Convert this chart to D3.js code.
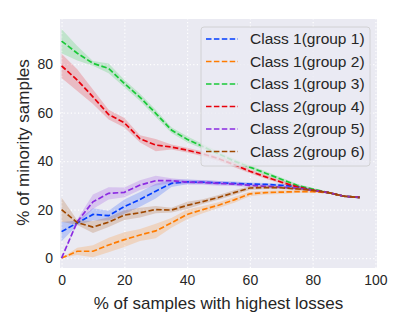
<!DOCTYPE html>
<html>
<head>
<meta charset="utf-8">
<script src="https://cdn.jsdelivr.net/npm/d3@7"></script>
<style>
  body { margin: 0; background: #fff; }
  text { font-family: "Liberation Sans", Arial, sans-serif; fill: #262626; }
</style>
</head>
<body>
<script>
const margin = {top: 19, right: 30, bottom: 58, left: 60};
const width = 407 - margin.left - margin.right;
const height = 326 - margin.top - margin.bottom;

// x positions (% of samples with highest losses)
var xValues = [0, 5, 10, 15, 20, 25, 30, 35, 40, 45, 50, 55, 60, 65, 70, 75, 80, 85, 90, 95];
var xTicks = [0, 20, 40, 60, 80, 100];
var yTicks = [0, 20, 40, 60, 80];

var seriesNames = ["Class 1(group 1)", "Class 1(group 2)", "Class 1(group 3)",
                   "Class 2(group 4)", "Class 2(group 5)", "Class 2(group 6)"];
var seriesColors = ["#023eff", "#ff7c00", "#1ac938", "#e8000b", "#8b2be2", "#9f4800"];

// mean values
var group1 = [10.9, 14.5, 18, 17.5, 21.2, 24.2, 27.6, 30.8, 31.4, 31.3, 31, 30.8, 30.5, 30.4, 30, 29.5, 28, 27, 25.5, 25];
var group2 = [0, 2.8, 2.8, 5.4, 7.6, 9.5, 11.2, 14.5, 18, 20, 21.8, 24, 26.5, 27, 27.2, 27.4, 27.4, 27, 25.5, 25];
var group3 = [89.5, 84.5, 80.3, 78.2, 72, 66.3, 59.7, 52.8, 49, 46, 43, 40, 37.5, 35, 32.5, 30, 28.5, 27, 25.5, 25];
var group4 = [79.3, 73.4, 66.5, 59.2, 55.8, 49.2, 46.6, 45.8, 44.5, 43, 41, 38.5, 35.8, 33.5, 31.3, 29.4, 28, 27, 25.5, 25];
var group5 = [0, 15, 23.2, 26.7, 27.1, 30.1, 31.9, 31.9, 31.3, 31.2, 30.8, 30.5, 30, 29.6, 29.2, 28.8, 28, 27, 25.5, 25];
var group6 = [20, 14.6, 12.8, 14.8, 17.7, 18.7, 20, 19.8, 21.7, 23.3, 25, 27, 28.9, 29.1, 29, 28.5, 28, 27, 25.5, 25];

// half width of the shaded confidence band
var ci1 = [4, 1, 2.5, 2, 3, 3, 3, 1.5, 1, 0.8, 0.8, 0.8, 0.7, 0.6, 0.6, 0.5, 0.4, 0.3, 0.3, 0.2];
var ci2 = [0, 1.5, 2.5, 3, 3, 2.5, 3, 2, 2, 1.5, 1.2, 1.2, 1, 0.8, 0.8, 0.6, 0.5, 0.4, 0.3, 0.2];
var ci3 = [5, 3, 1, 2, 1.5, 1.5, 1.5, 1.2, 1.2, 1, 1, 1, 0.8, 0.8, 0.7, 0.6, 0.5, 0.4, 0.3, 0.2];
var ci4 = [5, 4.5, 3, 2, 2, 1.5, 2.5, 1, 1, 1, 1, 1, 0.8, 0.8, 0.7, 0.6, 0.5, 0.4, 0.3, 0.2];
var ci5 = [0, 1, 3, 2.5, 2, 2, 2, 1, 1, 1, 1, 0.8, 0.8, 0.7, 0.6, 0.5, 0.4, 0.3, 0.3, 0.2];
var ci6 = [5, 1, 2.5, 2, 2, 2, 1.5, 1, 1.5, 1, 1, 1, 0.8, 0.7, 0.6, 0.5, 0.4, 0.3, 0.3, 0.2];

var means = [group1, group2, group3, group4, group5, group6];
var cis = [ci1, ci2, ci3, ci4, ci5, ci6];

var xScale = d3.scaleLinear().domain([-0.5, 100.5]).range([0, width]);
var yScale = d3.scaleLinear().domain([-4.1, 98.6]).range([height, 0]);

var svg = d3.select("body").append("svg")
    .attr("width", width + margin.left + margin.right)
    .attr("height", height + margin.top + margin.bottom)
    .append("g")
    .attr("transform", "translate(" + margin.left + "," + margin.top + ")");

// seaborn darkgrid background
svg.append("rect")
    .attr("width", width)
    .attr("height", height)
    .attr("fill", "#eaeaf2");

var xAxis = d3.axisBottom(xScale).tickValues(xTicks).tickSize(-height).tickPadding(7);
var yAxis = d3.axisLeft(yScale).tickValues(yTicks).tickSize(-width).tickPadding(7);

function styleAxis(g) {
    g.select(".domain").remove();
    g.selectAll(".tick line")
        .attr("stroke", "#fff")
        .attr("stroke-width", 1.2)
        .attr("stroke-dasharray", "1.2,2.4");
    g.selectAll(".tick text")
        .style("font-size", "14px")
        .attr("fill", "#262626");
}

svg.append("g")
    .attr("class", "x axis")
    .attr("transform", "translate(0," + height + ")")
    .call(xAxis)
    .call(styleAxis);

svg.append("g")
    .attr("class", "y axis")
    .call(yAxis)
    .call(styleAxis);

// bands then dashed lines, one group per series
var area = d3.area()
    .x(function(d, i) { return xScale(xValues[i]); })
    .y0(function(d) { return yScale(d[0] - d[1]); })
    .y1(function(d) { return yScale(d[0] + d[1]); });

var line = d3.line()
    .x(function(d, i) { return xScale(xValues[i]); })
    .y(function(d) { return yScale(d); });

means.forEach(function(m, k) {
    var band = m.map(function(v, i) { return [v, cis[k][i]]; });
    svg.append("path")
        .datum(band)
        .attr("d", area)
        .attr("fill", seriesColors[k])
        .attr("fill-opacity", 0.2);
    svg.append("path")
        .datum(m)
        .attr("d", line)
        .attr("fill", "none")
        .attr("stroke", seriesColors[k])
        .attr("stroke-width", 1.7)
        .attr("stroke-dasharray", "5.5,2.4");
});

// legend
var legend = svg.append("g").attr("transform", "translate(141,8)");
legend.append("rect")
    .attr("width", 169)
    .attr("height", 139)
    .attr("rx", 3)
    .attr("fill", "#eaeaf2")
    .attr("fill-opacity", 0.8)
    .attr("stroke", "#cccccc")
    .attr("stroke-width", 0.8);

seriesNames.forEach(function(name, k) {
    var yy = 12 + k * 22.5;
    legend.append("line")
        .attr("x1", 5).attr("x2", 37)
        .attr("y1", yy).attr("y2", yy)
        .attr("stroke", seriesColors[k])
        .attr("stroke-width", 1.7)
        .attr("stroke-dasharray", "5.5,2.4");
    legend.append("text")
        .attr("x", 49)
        .attr("y", yy)
        .attr("dy", "0.35em")
        .style("font-size", "15.5px")
        .text(name);
});

// axis labels
svg.append("text")
    .attr("x", width / 2)
    .attr("y", height + 41)
    .attr("text-anchor", "middle")
    .style("font-size", "17px")
    .text("% of samples with highest losses");

svg.append("text")
    .attr("transform", "rotate(-90)")
    .attr("x", -height / 2 + 1)
    .attr("y", -31)
    .attr("text-anchor", "middle")
    .style("font-size", "17px")
    .text("% of minority samples");
</script>
</body>
</html>
